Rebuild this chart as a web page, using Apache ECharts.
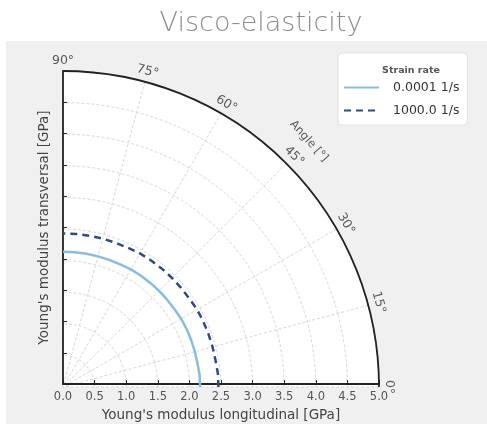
<!DOCTYPE html>
<html>
<head>
<meta charset="utf-8">
<script src="https://cdn.jsdelivr.net/npm/echarts@6/dist/echarts.min.js"></script>
<style>
  html, body { margin: 0; padding: 0; background: #ffffff; }
  #chart { width: 487px; height: 427px; }
</style>
</head>
<body>
<div id="chart"></div>
<script>
// Directional Young's modulus (GPa), sampled every 5 degrees
const angles = [0, 5, 10, 15, 20, 25, 30, 35, 40, 45, 50, 55, 60, 65, 70, 75, 80, 85, 90];
const modulusSlow = [2.17, 2.17, 2.16, 2.16, 2.16, 2.16, 2.16, 2.15, 2.15, 2.15,
                     2.15, 2.15, 2.15, 2.14, 2.14, 2.14, 2.14, 2.14, 2.14];   // 0.0001 1/s
const modulusFast = [2.46, 2.46, 2.45, 2.45, 2.45, 2.45, 2.45, 2.44, 2.44, 2.44,
                     2.44, 2.44, 2.44, 2.43, 2.43, 2.43, 2.43, 2.43, 2.43];   // 1000.0 1/s
const seriesNames = ['0.0001 1/s', '1000.0 1/s'];

// Axis ticks
const angleTicks = [0, 15, 30, 45, 60, 75, 90];
const radialTicks = ['0.0', '0.5', '1.0', '1.5', '2.0', '2.5', '3.0', '3.5', '4.0', '4.5', '5.0'];
const radialMax = 5;
const angleLabelRadius = 5.17;

const FONT = '"DejaVu Sans", "Liberation Sans", sans-serif';
const CX = 63, CY = 387, R = 316;
const GRID_COLOR = '#dcd6d2';

const toPolar = (vals) => vals.map((v, i) => [v, angles[i]]);

const chart = echarts.init(document.getElementById('chart'), null, { renderer: 'canvas' });

chart.setOption({
  backgroundColor: '#ffffff',
  animation: false,
  title: [
    {
      text: 'Visco-elasticity',
      left: 256,
      top: 5,
      textAlign: 'center',
      textStyle: { fontFamily: FONT, fontSize: 27, fontWeight: 200, color: '#8c8c8c' }
    },
    {
      text: 'Strain rate',
      left: 406,
      top: 61,
      textAlign: 'center',
      textStyle: { fontFamily: FONT, fontSize: 9.5, fontWeight: 'bold', color: '#555' }
    }
  ],
  graphic: [
    {
      // grey figure panel
      type: 'rect',
      z: -100,
      silent: true,
      shape: { x: 6, y: 41, width: 481, height: 383 },
      style: { fill: '#f0f0f0' }
    },
    {
      // white plotting quadrant behind the polar grid
      type: 'sector',
      z: -90,
      silent: true,
      shape: { cx: CX, cy: CY, r0: 0, r: R, startAngle: -Math.PI / 2, endAngle: 0, clockwise: true },
      style: { fill: '#ffffff' }
    }
  ],
  legend: {
    orient: 'vertical',
    left: 338,
    top: 53,
    padding: [28, 8, 8, 5],
    backgroundColor: '#ffffff',
    borderColor: '#e2e2e2',
    borderWidth: 1,
    borderRadius: 4,
    itemWidth: 35,
    itemHeight: 14,
    itemGap: 10,
    itemStyle: { opacity: 0 },
    textStyle: { fontFamily: FONT, fontSize: 12.5, color: '#333', padding: [0, 0, 0, 9] },
    data: seriesNames
  },
  polar: { center: [CX, CY], radius: [0, R] },
  angleAxis: {
    type: 'value',
    min: 0,
    max: 90,
    interval: 15,
    startAngle: 0,
    endAngle: 90,
    clockwise: false,
    axisLine: { show: true, lineStyle: { color: '#222', width: 1.8 } },
    axisTick: { show: false },
    axisLabel: { show: false },
    splitLine: { show: true, lineStyle: { color: GRID_COLOR, width: 1, type: [3, 2] } },
    splitArea: { show: false }
  },
  radiusAxis: {
    type: 'value',
    min: 0,
    max: radialMax,
    interval: 0.5,
    axisLine: { show: false },
    axisTick: { show: false },
    axisLabel: { show: false },
    splitLine: { show: true, lineStyle: { color: GRID_COLOR, width: 1, type: [3, 2] } },
    splitArea: { show: false }
  },
  grid: { left: CX, top: CY - R, width: R, height: R, containLabel: false },
  xAxis: {
    type: 'value',
    min: 0,
    max: radialMax,
    interval: 0.5,
    name: "Young's modulus longitudinal [GPa]",
    nameLocation: 'middle',
    nameGap: 21,
    nameTextStyle: { fontFamily: FONT, fontSize: 13.5, color: '#444' },
    axisLine: { show: true, lineStyle: { color: '#222', width: 1.8 } },
    axisTick: { show: true, inside: true, length: 4, lineStyle: { color: '#222' } },
    axisLabel: {
      margin: 7,
      fontFamily: FONT,
      fontSize: 11.5,
      color: '#555',
      formatter: (v) => radialTicks[Math.round(v / 0.5)]
    },
    splitLine: { show: false }
  },
  yAxis: {
    type: 'value',
    min: 0,
    max: radialMax,
    interval: 0.5,
    name: "Young's modulus transversal [GPa]",
    nameLocation: 'middle',
    nameGap: 12,
    nameRotate: 90,
    nameTextStyle: { fontFamily: FONT, fontSize: 13.5, color: '#444' },
    axisLine: { show: true, lineStyle: { color: '#222', width: 1.8 } },
    axisTick: { show: true, inside: true, length: 4, lineStyle: { color: '#222' } },
    axisLabel: { show: false },
    splitLine: { show: false }
  },
  series: [
    {
      name: seriesNames[0],
      type: 'line',
      coordinateSystem: 'polar',
      smooth: false,
      symbol: 'none',
      lineStyle: { color: '#88bde0', width: 2.5, type: 'solid' },
      itemStyle: { color: '#88bde0' },
      data: toPolar(modulusSlow),
      z: 5
    },
    {
      name: seriesNames[1],
      type: 'line',
      coordinateSystem: 'polar',
      smooth: false,
      symbol: 'none',
      lineStyle: { color: '#2f4c80', width: 2.5, type: [7, 5] },
      itemStyle: { color: '#2f4c80' },
      data: toPolar(modulusFast),
      z: 5
    },
    {
      // Tangentially rotated angle tick labels around the outer arc
      type: 'scatter',
      coordinateSystem: 'polar',
      symbolSize: 0,
      silent: true,
      clip: false,
      label: {
        show: true,
        position: 'inside',
        fontFamily: FONT,
        fontSize: 12.5,
        color: '#333'
      },
      data: angleTicks.map((a) => ({
        value: [angleLabelRadius, a],
        label: { formatter: a + '°', rotate: a - 90 }
      })),
      z: 6
    },
    {
      // Angle axis title along the arc
      type: 'scatter',
      coordinateSystem: 'polar',
      symbolSize: 0,
      silent: true,
      clip: false,
      label: {
        show: true,
        position: 'inside',
        fontFamily: FONT,
        fontSize: 11.5,
        color: '#333',
        formatter: 'Angle [°]',
        rotate: -48
      },
      data: [[5.5, 45]],
      z: 6
    }
  ]
});
</script>
</body>
</html>
